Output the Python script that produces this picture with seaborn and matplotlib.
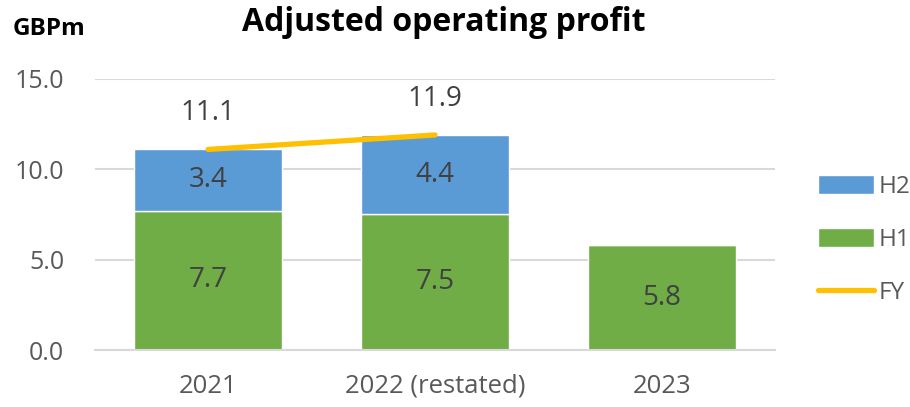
import matplotlib
matplotlib.use("Agg")
import matplotlib.pyplot as plt
import seaborn as sns
import numpy as np
from matplotlib.lines import Line2D
from matplotlib.patches import Patch

years = ["2021", "2022 (restated)", "2023"]
h1 = [7.7, 7.5, 5.8]
h2 = [3.4, 4.4, 0.0]
fy_years = ["2021", "2022 (restated)"]
fy = [11.1, 11.9]

green = "#70AD47"
blue = "#5B9BD5"
gold = "#FFC000"
grey = "#595959"

sns.set_theme(style="white")
plt.rcParams["font.family"] = ["Open Sans", "DejaVu Sans"]

fig = plt.figure(figsize=(9.1, 4.07), dpi=100)
ax = fig.add_axes([0.104, 0.14, 0.748, 0.666])

sns.barplot(x=years, y=h1, color=green, width=0.65, saturation=1, ax=ax, zorder=2)
sns.barplot(x=years, y=h2, color=blue, width=0.65, saturation=1, bottom=h1, ax=ax, zorder=2)
sns.lineplot(x=fy_years, y=fy, color=gold, linewidth=3.8, ax=ax, zorder=3,
             solid_capstyle="round")

# labels inside bars
for i in range(len(years)):
    ax.text(i, h1[i] / 2, f"{h1[i]:.1f}", ha="center", va="center", fontsize=20, color="#404040")
    if h2[i] > 0:
        ax.text(i, h1[i] + h2[i] / 2, f"{h2[i]:.1f}", ha="center", va="center", fontsize=20, color="#404040")
for i, v in enumerate(fy):
    ax.annotate(f"{v:.1f}", (i, v), xytext=(0, 26), textcoords="offset points",
                ha="center", va="center", fontsize=20, color="#404040")

ax.set_ylim(0, 15)
ax.set_xlim(-0.5, 2.5)
ax.set_yticks([0, 5, 10, 15])
ax.set_yticklabels([f"{t:.1f}" for t in [0, 5, 10, 15]])
ax.yaxis.grid(True, color="#D9D9D9", linewidth=1.5, zorder=0)
ax.set_axisbelow(True)
for s in ["top", "right", "left"]:
    ax.spines[s].set_visible(False)
ax.spines["bottom"].set_color("#D9D9D9")
ax.spines["bottom"].set_linewidth(1.5)
ax.tick_params(axis="x", length=0, labelsize=18.5, colors=grey, pad=17)
ax.tick_params(axis="y", length=0, labelsize=18, colors=grey, pad=22)

fig.text(0.488, 0.945, "Adjusted operating profit", ha="center", va="center",
         fontsize=23, fontweight="bold", color="black")
fig.text(0.014, 0.928, "GBPm", ha="left", va="center", fontsize=17.5,
         fontweight="bold", color="black")

handles = [Patch(facecolor=blue, label="H2"),
           Patch(facecolor=green, label="H1"),
           Line2D([0], [0], color=gold, linewidth=3.8, solid_capstyle="round", label="FY")]
leg = fig.legend(handles=handles, loc="center left", bbox_to_anchor=(0.888, 0.41),
                 frameon=False, fontsize=17.5, handlelength=2.3, handleheight=0.8,
                 labelspacing=1.2, handletextpad=0.2, borderaxespad=0)
for t in leg.get_texts():
    t.set_color(grey)

fig.savefig("out.png", dpi=100)
